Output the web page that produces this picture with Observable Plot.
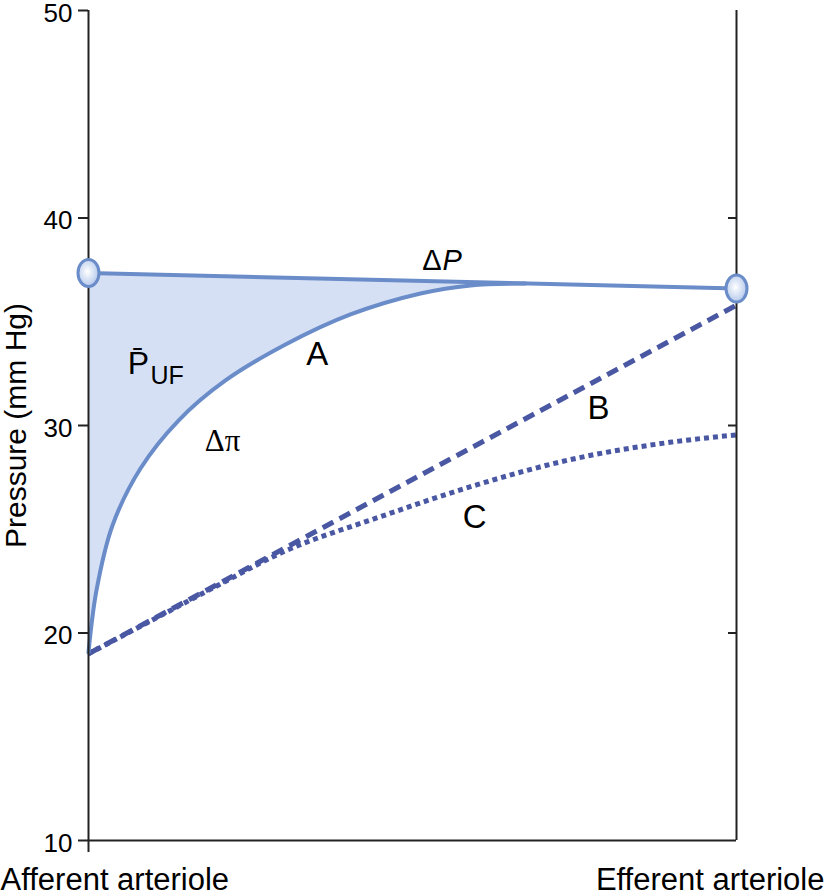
<!DOCTYPE html>
<html>
<head>
<meta charset="utf-8">
<script src="https://cdn.jsdelivr.net/npm/d3@7"></script>
<script src="https://cdn.jsdelivr.net/npm/@observablehq/plot@0.6"></script>
<style>
  html, body { margin: 0; padding: 0; background: #fff; }
</style>
</head>
<body>
<div id="chart"></div>
<script>
// Position along capillary: 0 = afferent arteriole, 1 = efferent arteriole
const dpX = [0, 1];
const dpY = [37.35, 36.6];           // ΔP (hydraulic pressure difference)

const aX = [0, 0.0123, 0.037, 0.0802, 0.1389, 0.2114, 0.304, 0.4043, 0.5123, 0.5895, 0.6744];
const aY = [19.06, 22.05, 25.18, 27.93, 30.24, 32.17, 33.9, 35.35, 36.36, 36.75, 36.84]; // Δπ curve A

const bX = [0, 1];
const bY = [19.0, 35.8];             // curve B

const cX = [0, 0.1, 0.2, 0.3, 0.45, 0.6, 0.75, 0.9, 1];
const cY = [19.0, 20.65, 22.3, 23.9, 25.6, 27.15, 28.4, 29.2, 29.55]; // curve C

const yTicks = [10, 20, 30, 40, 50];
const yTicksRight = [20, 30, 40];
const xLabels = ["Afferent arteriole", "Efferent arteriole"];
const xLabelPos = [0, 1];
const yTitle = "Pressure (mm Hg)";

const curveLabels = ["A", "B", "C"];
const curveLabelX = [0.353, 0.787, 0.596];
const curveLabelY = [33.42, 30.82, 25.57];

const lineBlue = "#6a8cc8";
const fillBlue = "#d6e0f5";
const darkBlue = "#4a58a4";

const dpAt = d3.scaleLinear().domain(dpX).range(dpY);
const aIdx = d3.range(aX.length);
const dpIdx = d3.range(dpX.length);
const bIdx = d3.range(bX.length);
const cIdx = d3.range(cX.length);

const k = 0.5523;
const ellipse = {
  draw(ctx) {
    const rx = 10.5, ry = 13.5;
    ctx.moveTo(rx, 0);
    ctx.bezierCurveTo(rx, ry * k, rx * k, ry, 0, ry);
    ctx.bezierCurveTo(-rx * k, ry, -rx, ry * k, -rx, 0);
    ctx.bezierCurveTo(-rx, -ry * k, -rx * k, -ry, 0, -ry);
    ctx.bezierCurveTo(rx * k, -ry, rx, -ry * k, rx, 0);
    ctx.closePath();
  }
};

const font = "'Liberation Sans', Arial, Helvetica, sans-serif";

const plot = Plot.plot({
  width: 824,
  height: 896,
  marginLeft: 88,
  marginRight: 88,
  marginTop: 10,
  marginBottom: 56,
  x: {domain: [0, 1], axis: null},
  y: {domain: [10, 50], axis: null},
  style: {fontFamily: font, background: "white", color: "black", overflow: "visible"},
  marks: [
    Plot.areaY(aIdx, {x: i => aX[i], y1: i => aY[i], y2: i => dpAt(aX[i]), curve: "catmull-rom", fill: fillBlue}),
    Plot.line(bIdx, {x: i => bX[i], y: i => bY[i], stroke: darkBlue, strokeWidth: 5, strokeDasharray: "12,7", strokeLinecap: "butt"}),
    Plot.line(cIdx, {x: i => cX[i], y: i => cY[i], curve: "monotone-x", stroke: darkBlue, strokeWidth: 5, strokeDasharray: "5,4", strokeLinecap: "butt"}),
    Plot.line(dpIdx, {x: i => dpX[i], y: i => dpY[i], stroke: lineBlue, strokeWidth: 4}),
    Plot.line(aIdx, {x: i => aX[i], y: i => aY[i], curve: "catmull-rom", stroke: lineBlue, strokeWidth: 4}),
    // frame lines
    Plot.ruleX([0, 1], {y1: 10, y2: 50, stroke: "#222", strokeWidth: 2}),
    Plot.ruleY([10], {x1: 0, x2: 1, stroke: "#222", strokeWidth: 2}),
    Plot.axisY({anchor: "left", ticks: yTicks, tickSize: 10, tickFormat: () => "", stroke: "#222", strokeWidth: 2, label: null}),
    Plot.axisY({anchor: "right", ticks: yTicksRight, tickSize: -9, tickFormat: () => "", stroke: "#222", strokeWidth: 2, label: null}),
    Plot.axisX({anchor: "bottom", ticks: [0], tickSize: 12, tickFormat: () => "", stroke: "#222", strokeWidth: 2, label: null}),
    // tick labels
    Plot.text(yTicks, {x: 0, y: d => d, dx: -16, dy: 3, textAnchor: "end", fontSize: 26}),
    // end points
    Plot.dot(dpIdx, {x: i => dpX[i], y: i => dpY[i], symbol: ellipse, fill: "url(#endGrad)", stroke: lineBlue, strokeWidth: 3}),
    // x labels
    Plot.text(xLabels, {x: (d, i) => xLabelPos[i], y: 10, dy: 40, textAnchor: "start", fontSize: 31, filter: (d, i) => i === 0, dx: -88}),
    Plot.text(xLabels, {x: (d, i) => xLabelPos[i], y: 10, dy: 40, textAnchor: "end", fontSize: 31, filter: (d, i) => i === 1, dx: 88}),
    // y title
    Plot.text([yTitle], {frameAnchor: "left", y: 30.0, dx: -72, rotate: -90, textAnchor: "middle", fontSize: 30}),
    // curve labels
    Plot.text(curveLabels, {x: (d, i) => curveLabelX[i], y: (d, i) => curveLabelY[i], fontSize: 33}),
    Plot.text(["Δ"], {x: 0.5448, y: 37.95, textAnchor: "end", fontSize: 29}),
    Plot.text(["P"], {x: 0.5448, y: 37.95, textAnchor: "start", fontSize: 29, fontStyle: "italic", dx: 1}),
    Plot.text(["Δπ"], {x: 0.207, y: 29.23, fontSize: 31, fontFamily: "'Liberation Serif', 'Times New Roman', serif"}),
    Plot.text(["P\u0304"], {x: 0.0772, y: 32.99, fontSize: 32}),
    Plot.text(["UF"], {x: 0.0957, y: 32.4, textAnchor: "start", fontSize: 25})
  ]
});

const svg = d3.select(plot);
const defs = svg.insert("defs", ":first-child");
const g = defs.append("radialGradient").attr("id", "endGrad").attr("cx", "45%").attr("cy", "45%").attr("r", "60%");
g.append("stop").attr("offset", "0%").attr("stop-color", "#ffffff");
g.append("stop").attr("offset", "100%").attr("stop-color", "#aec4ea");

document.getElementById("chart").appendChild(plot);
</script>
</body>
</html>
